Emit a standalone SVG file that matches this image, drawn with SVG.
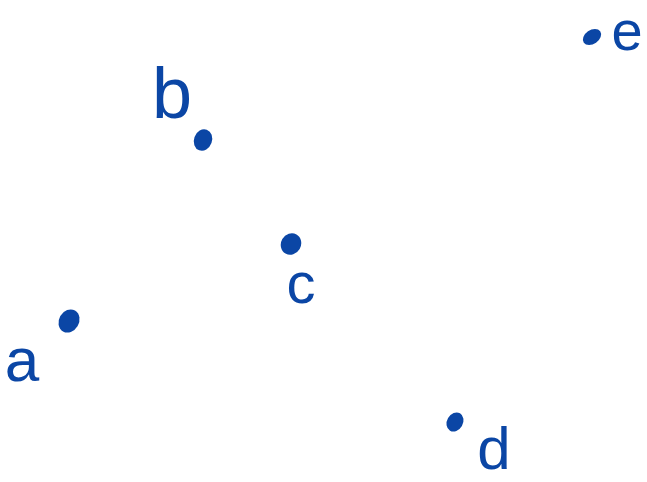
<svg xmlns="http://www.w3.org/2000/svg" width="647" height="482" viewBox="0 0 647 482">
<style>
.dot{fill:#0b46a5}
.lbl{font-family:"Liberation Sans","DejaVu Sans",sans-serif;fill:#0b46a5;text-anchor:middle}
</style>
<rect width="647" height="482" fill="#fff"/>
<g id="a">
<ellipse class="dot" cx="69" cy="321" rx="10" ry="12" transform="rotate(30 69 321)"/>
<text class="lbl" x="22" y="381" font-size="62">a</text>
</g>
<g id="b">
<ellipse class="dot" cx="203" cy="140" rx="9" ry="11" transform="rotate(20 203 140)"/>
<text class="lbl" x="172" y="118" font-size="72">b</text>
</g>
<g id="c">
<ellipse class="dot" cx="291" cy="244" rx="10" ry="11" transform="rotate(30 291 244)"/>
<text class="lbl" x="301" y="303" font-size="58">c</text>
</g>
<g id="d">
<ellipse class="dot" cx="455" cy="422" rx="8" ry="10" transform="rotate(30 455 422)"/>
<text class="lbl" x="494" y="469" font-size="60">d</text>
</g>
<g id="e">
<ellipse class="dot" cx="592" cy="37" rx="10" ry="7" transform="rotate(-35 592 37)"/>
<text class="lbl" x="627" y="50" font-size="56">e</text>
</g>
</svg>
